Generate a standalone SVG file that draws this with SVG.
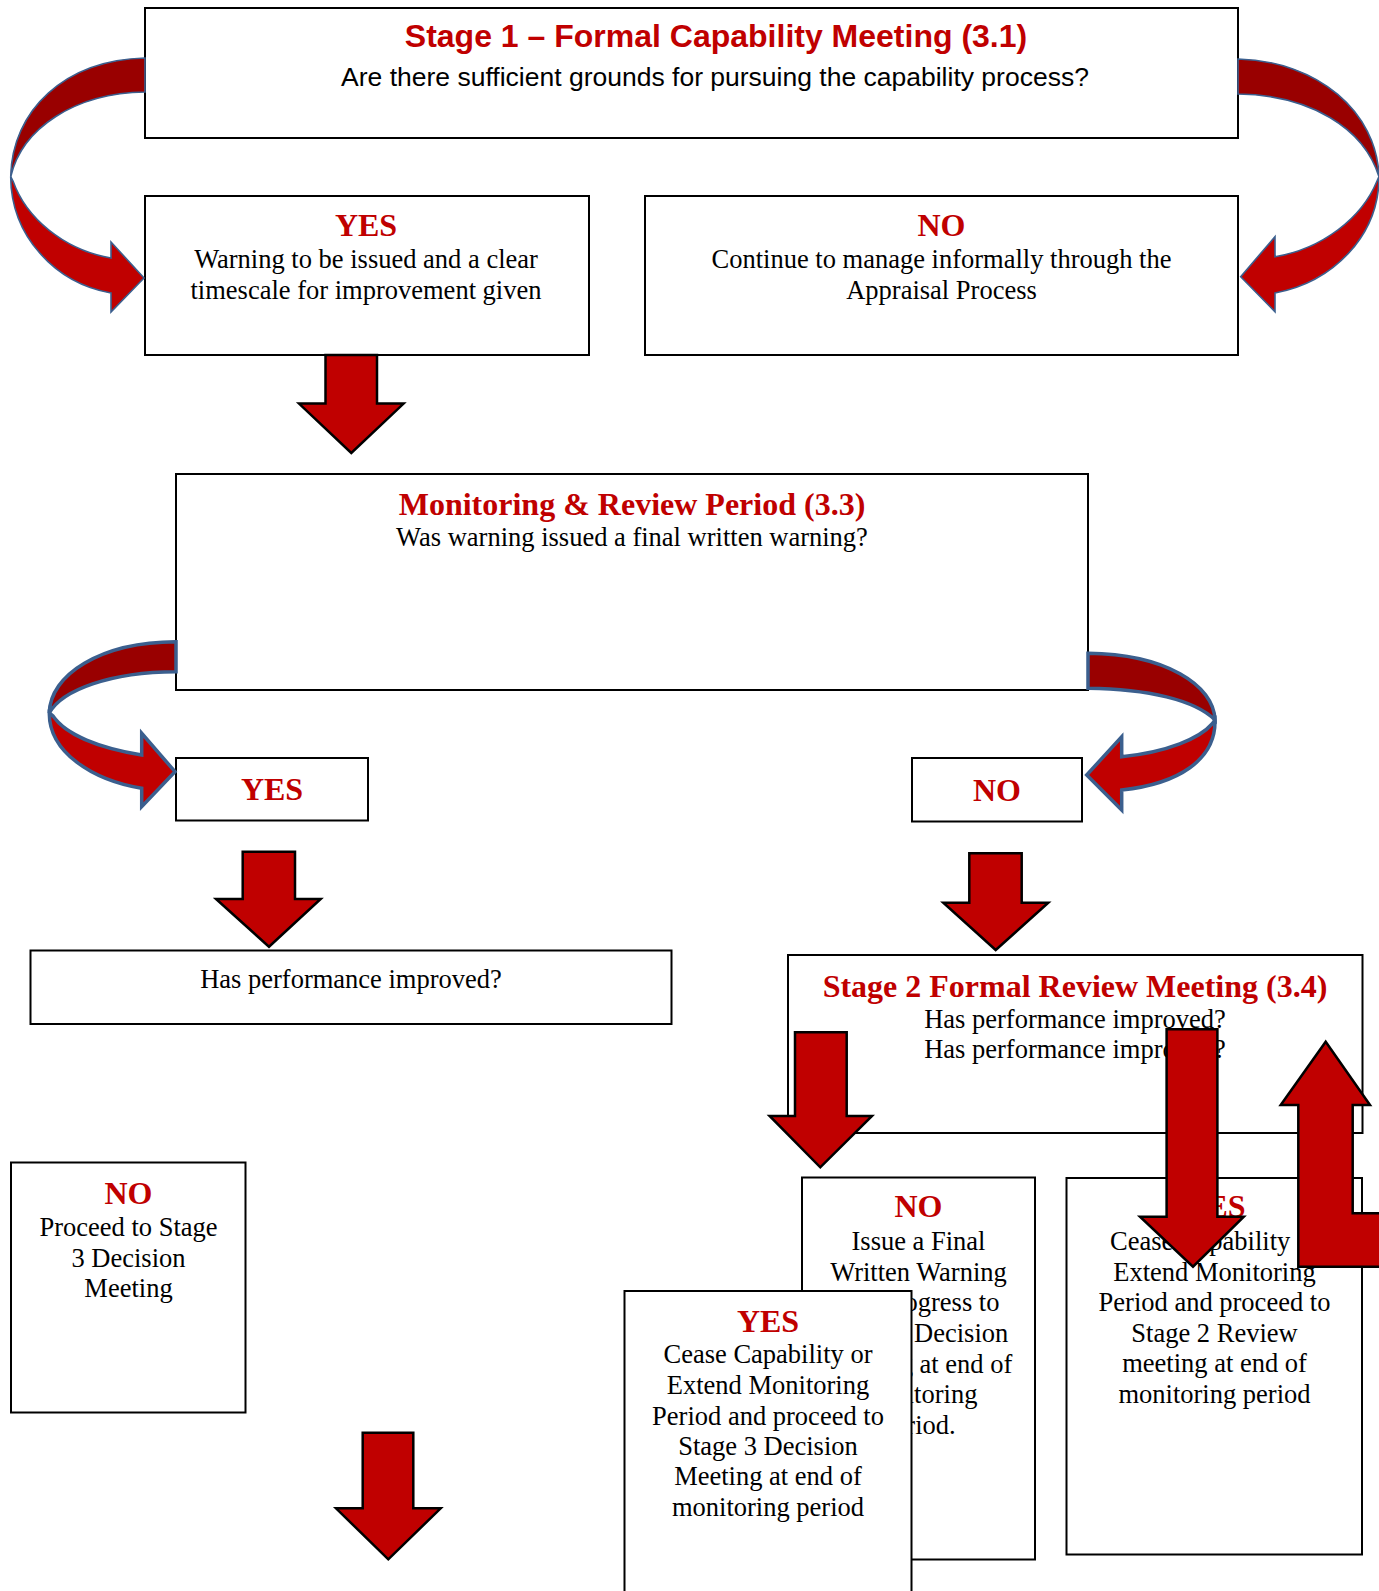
<svg xmlns="http://www.w3.org/2000/svg" width="1379" height="1591" viewBox="0 0 1379 1591">
<style>
.box{fill:#fff;stroke:#000;stroke-width:2}
.t{font-family:"Liberation Serif","Times New Roman",serif;font-size:26.5px;fill:#000;text-anchor:middle}
.h{font-family:"Liberation Serif","Times New Roman",serif;font-size:32px;font-weight:bold;fill:#C00000;text-anchor:middle}
.st{font-family:"Liberation Sans",Arial,sans-serif;font-size:32px;font-weight:bold;fill:#C00000;text-anchor:middle}
.ss{font-family:"Liberation Sans",Arial,sans-serif;font-size:26.5px;fill:#000;text-anchor:middle}
.dn{fill:#C00000;stroke:#000;stroke-width:2.5;stroke-linejoin:miter}
.cb{fill:#990000;stroke:#3B5F8E;stroke-width:1.6}
.cf{fill:#C00000;stroke:#3B5F8E;stroke-width:1.6}
.cb2{fill:#990000;stroke:#3B5F8E;stroke-width:3.5}
.cf2{fill:#C00000;stroke:#3B5F8E;stroke-width:3.5}
</style>
<rect width="1379" height="1591" fill="#fff"/>
<g id="stage1">
<rect class="box" x="145" y="8" width="1093" height="130"/>
<text class="st" x="716" y="47">Stage 1 – Formal Capability Meeting (3.1)</text>
<text class="ss" x="715" y="86">Are there sufficient grounds for pursuing the capability process?</text>
</g>
<g id="yes1">
<rect class="box" x="145" y="196" width="444" height="159"/>
<text class="h" x="366" y="235.5">YES</text>
<text class="t" x="366" y="268">Warning to be issued and a clear</text>
<text class="t" x="366" y="298.5">timescale for improvement given</text>
</g>
<g id="no1">
<rect class="box" x="645" y="196" width="593" height="159"/>
<text class="h" x="941.5" y="235.5">NO</text>
<text class="t" x="941.5" y="268">Continue to manage informally through the</text>
<text class="t" x="941.5" y="298.5">Appraisal Process</text>
</g>
<g id="monitoring">
<rect class="box" x="176" y="474" width="912" height="216"/>
<text class="h" x="632" y="515">Monitoring &amp; Review Period (3.3)</text>
<text class="t" x="632" y="546">Was warning issued a final written warning?</text>
</g>
<g id="yes2">
<rect class="box" x="176" y="758" width="192" height="62.5"/>
<text class="h" x="272" y="800">YES</text>
</g>
<g id="no2">
<rect class="box" x="912" y="758" width="170" height="63.5"/>
<text class="h" x="997" y="800.5">NO</text>
</g>
<g id="improved">
<rect class="box" x="30.5" y="950.5" width="641" height="73.5"/>
<text class="t" x="351" y="988">Has performance improved?</text>
</g>
<g id="stage2">
<rect class="box" x="788" y="955" width="574.5" height="178"/>
<text class="h" x="1075" y="996.5">Stage 2 Formal Review Meeting (3.4)</text>
<text class="t" x="1075" y="1027.5">Has performance improved?</text>
<text class="t" x="1075" y="1058">Has performance improved?</text>
</g>
<g id="no3">
<rect class="box" x="11" y="1162.5" width="234.5" height="250"/>
<text class="h" x="128.5" y="1203.5">NO</text>
<text class="t" x="128.5" y="1236">Proceed to Stage</text>
<text class="t" x="128.5" y="1266.5">3 Decision</text>
<text class="t" x="128.5" y="1296.5">Meeting</text>
</g>
<g id="no4">
<rect class="box" x="802" y="1177.5" width="233" height="382"/>
<text class="h" x="918.5" y="1217">NO</text>
<text class="t" x="918.5" y="1249.5">Issue a Final</text>
<text class="t" x="918.5" y="1280.5">Written Warning</text>
<text class="t" x="918.5" y="1311">and progress to</text>
<text class="t" x="918.5" y="1342">Stage 3 Decision</text>
<text class="t" x="918.5" y="1372.5">Meeting at end of</text>
<text class="t" x="918.5" y="1403">monitoring</text>
<text class="t" x="918.5" y="1433.5">period.</text>
</g>
<g id="yes4">
<rect class="box" x="1066.5" y="1178" width="295.5" height="376.5"/>
<text class="h" x="1214.5" y="1217">YES</text>
<text class="t" x="1214.5" y="1249.5">Cease Capability or</text>
<text class="t" x="1214.5" y="1280.5">Extend Monitoring</text>
<text class="t" x="1214.5" y="1311">Period and proceed to</text>
<text class="t" x="1214.5" y="1341.5">Stage 2 Review</text>
<text class="t" x="1214.5" y="1372">meeting at end of</text>
<text class="t" x="1214.5" y="1403">monitoring period</text>
</g>
<g id="yes3">
<rect class="box" x="624.5" y="1291" width="287" height="310"/>
<text class="h" x="768" y="1331.5">YES</text>
<text class="t" x="768" y="1363">Cease Capability or</text>
<text class="t" x="768" y="1394">Extend Monitoring</text>
<text class="t" x="768" y="1424.5">Period and proceed to</text>
<text class="t" x="768" y="1454.5">Stage 3 Decision</text>
<text class="t" x="768" y="1484.5">Meeting at end of</text>
<text class="t" x="768" y="1516">monitoring period</text>
</g>
<g id="connectors">
<path class="cb" d="M145,58 C65,60 12,110 10.7,176.7 C22,128 75,93 145,92 Z"/>
<path class="cf" d="M10.7,176.7 C11,236 55,283 111,293 L111,312 L144,278 L111,242 L111,258 C64,250 26,218 13,181 Z"/>
<path class="cb" d="M1238,59 C1318,61 1377,112 1379,176.7 C1364,128 1310,95 1238,94 Z"/>
<path class="cf" d="M1379,176.7 C1379,236 1333,282 1275,293 L1275,311.7 L1240.7,276.7 L1275,236.7 L1275,256.7 C1322,249 1362,218 1377,181 Z"/>
<path class="cb2" d="M176,641.7 C100,642 50,675 49.3,713 C62,690 110,672 176,671.7 Z"/>
<path class="cf2" d="M49.3,713 C49,752 92,780 141.7,788.3 L141.7,806.7 L175,771.7 L141.7,733.3 L141.7,755 C100,748 66,735 53,716 Z"/>
<path class="cb2" d="M1088,653.3 C1165,654 1214,685 1215,720 C1195,700 1148,689 1088,688.3 Z"/>
<path class="cf2" d="M1215,720 C1216,760 1178,784 1121.7,790 L1121.7,810 L1086.7,775 L1121.7,736.7 L1121.7,756.7 C1168,752 1200,738 1212,724 Z"/>
<polygon class="dn" points="325.5,355 377,355 377,403.6 403.6,403.6 351.3,453 299,403.6 325.5,403.6"/>
<polygon class="dn" points="242.7,851.7 295,851.7 295,899 320.7,899 269,946.7 216,899 242.7,899"/>
<polygon class="dn" points="969.3,853.3 1021.7,853.3 1021.7,902.7 1048.3,902.7 995.7,950 943.3,902.7 969.3,902.7"/>
<polygon class="dn" points="795,1032.3 846.7,1032.3 846.7,1116 872,1116 820.3,1167.3 769.6,1116 795,1116"/>
<polygon class="dn" points="1166.6,1029.3 1217.4,1029.3 1217.4,1216.7 1243.8,1216.7 1193,1266.7 1140,1216.7 1166.6,1216.7"/>
<polygon class="dn" points="362.7,1432.7 413.3,1432.7 413.3,1508.3 440.7,1508.3 388.3,1559.3 336,1508.3 362.7,1508.3"/>
<polygon class="dn" points="1325.7,1041.7 1370,1105 1352.7,1105 1352.7,1213.3 1385,1213.3 1385,1266.7 1298.3,1266.7 1298.3,1105 1280.7,1105"/>
</g>
</svg>
